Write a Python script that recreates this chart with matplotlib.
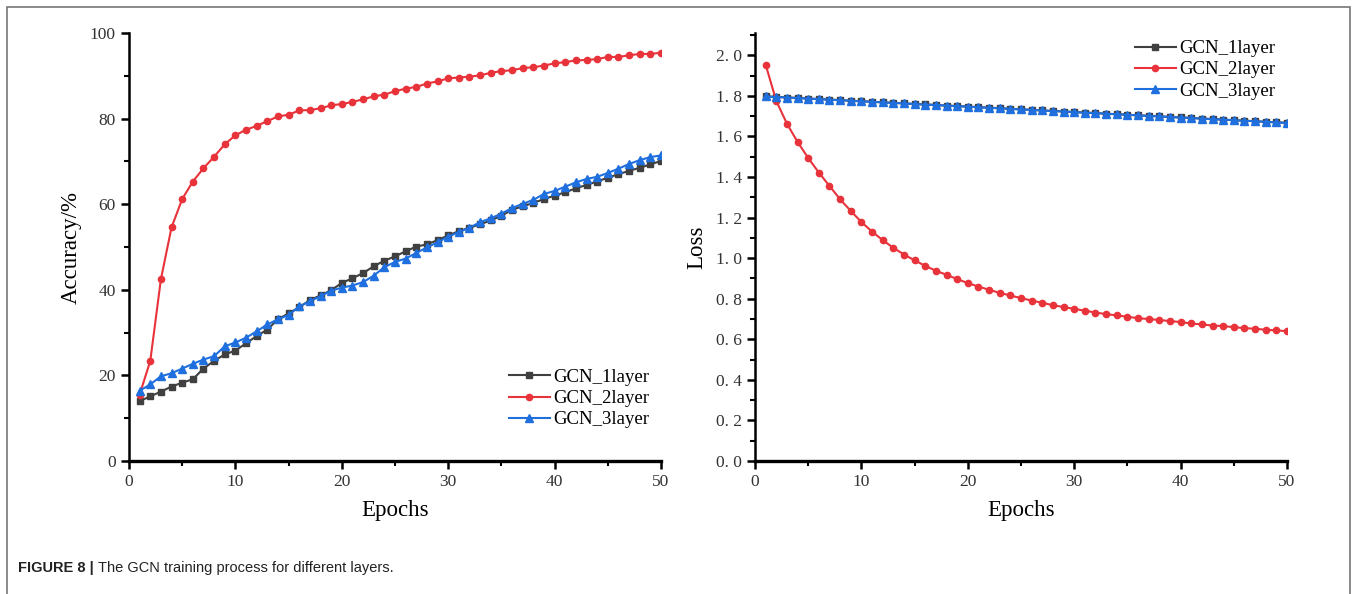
import matplotlib
matplotlib.use("Agg")
import matplotlib.pyplot as plt
from matplotlib.ticker import MultipleLocator, FuncFormatter
from matplotlib.patches import Rectangle

# ---------------------------------------------------------------- data ----
epochs = list(range(1, 51))

acc_1layer = [14.0, 15.1, 16.2, 17.4, 18.3, 19.1, 21.6, 23.4, 24.9, 25.8,
              27.5, 29.2, 30.7, 33.1, 34.5, 35.9, 37.6, 38.7, 39.9, 41.6,
              42.7, 43.9, 45.5, 46.8, 47.8, 49.0, 50.1, 50.6, 51.6, 52.7,
              53.7, 54.5, 55.3, 56.2, 57.3, 58.7, 59.5, 60.3, 61.2, 62.0,
              62.8, 63.7, 64.5, 65.3, 66.2, 67.0, 67.8, 68.5, 69.3, 70.1]
acc_2layer = [15.5, 23.4, 42.5, 54.6, 61.2, 65.3, 68.4, 71.1, 74.0, 76.1,
              77.4, 78.3, 79.4, 80.5, 80.9, 81.9, 82.0, 82.4, 83.1, 83.4,
              83.9, 84.5, 85.2, 85.6, 86.4, 87.0, 87.4, 88.2, 88.7, 89.4,
              89.6, 89.8, 90.1, 90.7, 91.1, 91.3, 91.8, 92.0, 92.4, 92.9,
              93.2, 93.6, 93.7, 93.9, 94.4, 94.4, 94.8, 95.1, 95.1, 95.4]
acc_3layer = [16.4, 17.9, 19.8, 20.5, 21.6, 22.7, 23.7, 24.5, 26.8, 27.7,
              28.8, 30.3, 31.9, 33.1, 34.1, 36.1, 37.3, 38.5, 39.8, 40.5,
              41.0, 41.8, 43.3, 45.3, 46.5, 47.3, 48.6, 49.9, 51.1, 52.4,
              53.5, 54.5, 55.8, 56.7, 57.8, 59.1, 60.1, 61.0, 62.4, 63.1,
              64.1, 65.1, 65.9, 66.4, 67.3, 68.3, 69.4, 70.3, 71.0, 71.4]

loss_1layer = [1.798, 1.795, 1.792, 1.790, 1.787, 1.784, 1.782, 1.779, 1.776, 1.774,
               1.771, 1.768, 1.766, 1.763, 1.760, 1.758, 1.755, 1.752, 1.750, 1.747,
               1.744, 1.742, 1.739, 1.736, 1.734, 1.731, 1.728, 1.726, 1.723, 1.720,
               1.718, 1.715, 1.712, 1.710, 1.707, 1.704, 1.702, 1.699, 1.696, 1.694,
               1.691, 1.688, 1.686, 1.683, 1.680, 1.678, 1.675, 1.672, 1.670, 1.667]
loss_2layer = [1.954, 1.775, 1.663, 1.573, 1.494, 1.422, 1.356, 1.290, 1.233, 1.178,
               1.131, 1.089, 1.051, 1.018, 0.989, 0.962, 0.938, 0.918, 0.897, 0.877,
               0.860, 0.844, 0.829, 0.816, 0.803, 0.791, 0.780, 0.768, 0.759, 0.750,
               0.741, 0.732, 0.724, 0.718, 0.711, 0.704, 0.700, 0.695, 0.690, 0.685,
               0.678, 0.673, 0.668, 0.665, 0.660, 0.655, 0.652, 0.647, 0.644, 0.640]
loss_3layer = [1.797, 1.794, 1.792, 1.789, 1.787, 1.784, 1.781, 1.779, 1.776, 1.773,
               1.771, 1.768, 1.765, 1.763, 1.760, 1.757, 1.755, 1.752, 1.749, 1.747,
               1.744, 1.741, 1.739, 1.736, 1.733, 1.731, 1.728, 1.725, 1.723, 1.720,
               1.717, 1.715, 1.712, 1.709, 1.707, 1.704, 1.701, 1.699, 1.696, 1.693,
               1.691, 1.688, 1.685, 1.683, 1.680, 1.677, 1.675, 1.672, 1.669, 1.666]

labels = ["GCN_1layer", "GCN_2layer", "GCN_3layer"]
colors = ["#404040", "#e8333b", "#1f6fde"]
markers = ["s", "o", "^"]
msizes = [5, 4.5, 6]

# ---------------------------------------------------------------- style ---
plt.rcParams["font.family"] = ["Liberation Serif", "DejaVu Serif"]
plt.rcParams["axes.linewidth"] = 1.8

fig = plt.figure(figsize=(13.58, 5.94), dpi=100)

# grey frame round the figure (left, top, right)
fig.add_artist(Rectangle((7 / 1358, -0.01), 1343 / 1358, 1 - 7 / 594 + 0.01,
                         transform=fig.transFigure, fill=False,
                         edgecolor="#777777", linewidth=1.2))

ax1 = fig.add_axes([129 / 1358, 1 - 461 / 594, 532 / 1358, 428 / 594])
ax2 = fig.add_axes([755 / 1358, 1 - 461 / 594, 532 / 1358, 428 / 594])


def style_axis(ax):
    for s in ["top", "right"]:
        ax.spines[s].set_visible(False)
    ax.spines["bottom"].set_linewidth(2.4)
    ax.tick_params(which="major", direction="out", length=6, width=1.8,
                   labelsize=12.5, colors="black", labelcolor="#333333")
    ax.tick_params(which="minor", direction="out", length=3.5, width=1.5)
    ax.xaxis.set_major_locator(MultipleLocator(10))
    ax.xaxis.set_minor_locator(MultipleLocator(5))
    ax.set_xlim(0, 50)
    ax.set_xlabel("Epochs", fontsize=16.5, labelpad=7)


# accuracy
acc = [acc_1layer, acc_2layer, acc_3layer]
for vals, lab, c, m, ms in zip(acc, labels, colors, markers, msizes):
    ax1.plot(epochs, vals, color=c, marker=m, markersize=ms, linewidth=1.5,
             label=lab)
style_axis(ax1)
ax1.set_ylim(0, 100)
ax1.yaxis.set_major_locator(MultipleLocator(20))
ax1.yaxis.set_minor_locator(MultipleLocator(10))
ax1.set_ylabel("Accuracy/%", fontsize=16.5, labelpad=6)
ax1.legend(loc="lower right", bbox_to_anchor=(1.0, 0.05), frameon=False,
           fontsize=13.5, handlelength=2.2, handletextpad=0.2,
           labelspacing=0.22, borderaxespad=0.2)

# loss
loss = [loss_1layer, loss_2layer, loss_3layer]
for vals, lab, c, m, ms in zip(loss, labels, colors, markers, msizes):
    ax2.plot(epochs, vals, color=c, marker=m, markersize=ms, linewidth=1.5,
             label=lab)
style_axis(ax2)
ax2.set_ylim(0, 2.11)
ax2.yaxis.set_major_locator(MultipleLocator(0.2))
ax2.yaxis.set_minor_locator(MultipleLocator(0.1))
ax2.yaxis.set_major_formatter(FuncFormatter(lambda v, p: ("%.1f" % v).replace(".", ". ")))
ax2.set_ylabel("Loss", fontsize=16.5, labelpad=6)
ax2.legend(loc="upper right", bbox_to_anchor=(1.0, 1.01), frameon=False,
           fontsize=13.5, handlelength=2.2, handletextpad=0.2,
           labelspacing=0.22, borderaxespad=0.2)

# caption: bold part, then the rest placed right after it
cap_font = ["Liberation Sans", "DejaVu Sans"]
cap = fig.text(18 / 1358, 1 - 568 / 594, "FIGURE 8 |", fontsize=10.5,
               fontweight="bold", family=cap_font, va="center", color="#222222")
fig.canvas.draw()
fig.text(0, 0, "The GCN training process for different layers.",
         fontsize=10.5, family=cap_font, va="center", color="#222222",
         transform=matplotlib.transforms.offset_copy(
             fig.transFigure, fig=fig, x=0, y=0, units="dots")).set_position(
    (cap.get_window_extent().x1 / fig.bbox.width + 4 / 1358, 1 - 568 / 594))

fig.savefig("out.png", dpi=100)
